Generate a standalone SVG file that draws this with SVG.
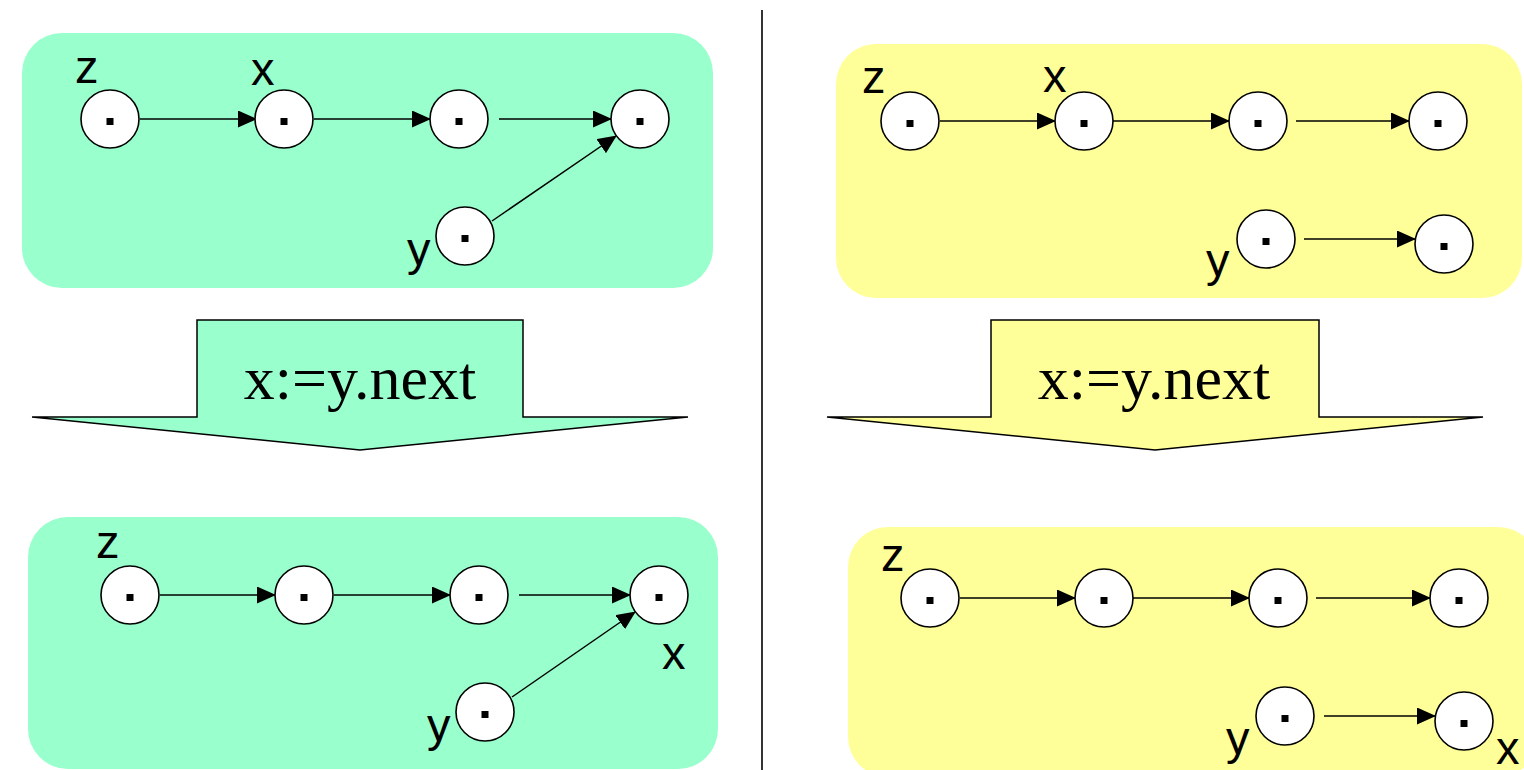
<svg xmlns="http://www.w3.org/2000/svg" width="1524" height="770" viewBox="0 0 1524 770">
<style>
.pg{fill:#99ffcc}
.py{fill:#ffff99}
.nd{fill:#ffffff;stroke:#000;stroke-width:1.6}
.dt{fill:#000}
.lb{font-family:"Liberation Sans",Arial,sans-serif;font-size:47px;fill:#000}
.op{font-family:"Liberation Serif","Times New Roman",serif;font-size:62px;fill:#000;text-anchor:middle}
.ar{stroke:#000;stroke-width:1.5;fill:none;marker-end:url(#ah)}
.bs{stroke:#000;stroke-width:1.5}
</style>
<defs>
<marker id="ah" markerUnits="userSpaceOnUse" viewBox="0 0 19 17" refX="18" refY="8.5" markerWidth="19" markerHeight="17" orient="auto">
<path d="M0,0 L19,8.5 L0,17 z" fill="#000"/>
</marker>
</defs>
<rect width="1524" height="770" fill="#ffffff"/>
<line x1="762" y1="10" x2="762" y2="770" stroke="#333" stroke-width="2"/>

<g id="panel-tl">
<rect class="pg" x="22" y="33" width="691" height="255" rx="40" ry="40"/>
<text class="lb" x="75" y="83">z</text>
<text class="lb" x="251" y="85">x</text>
<text class="lb" x="407" y="265">y</text>
</g>
<g id="panel-tr">
<rect class="py" x="836" y="44" width="686" height="254" rx="40" ry="40"/>
<text class="lb" x="862" y="93">z</text>
<text class="lb" x="1043" y="92">x</text>
<text class="lb" x="1206" y="276">y</text>
</g>
<g id="panel-bl">
<rect class="pg" x="28" y="517" width="690" height="252" rx="40" ry="40"/>
<text class="lb" x="96" y="558">z</text>
<text class="lb" x="662" y="669">x</text>
<text class="lb" x="427" y="741">y</text>
</g>
<g id="panel-br">
<rect class="py" x="848" y="527" width="690" height="250" rx="40" ry="40"/>
<text class="lb" x="881" y="571">z</text>
<text class="lb" x="1496" y="764">x</text>
<text class="lb" x="1226" y="754">y</text>
</g>

<g id="step-left">
<polygon class="pg bs" points="197,320 523,320 523,417 688,417 360,450 32,417 197,417"/>
<text class="op" x="360" y="399">x:=y.next</text>
</g>
<g id="step-right">
<polygon class="py bs" points="991,320 1319,320 1319,417 1483,417 1155,450 827,417 991,417"/>
<text class="op" x="1154" y="399">x:=y.next</text>
</g>

<g id="connectors">
<line class="ar" x1="140" y1="119" x2="256" y2="119"/>
<line class="ar" x1="314" y1="119" x2="430" y2="119"/>
<line class="ar" x1="499" y1="119" x2="611" y2="119"/>
<line class="ar" x1="492" y1="221" x2="616" y2="136"/>

<line class="ar" x1="940" y1="121" x2="1055" y2="121"/>
<line class="ar" x1="1113" y1="121" x2="1229" y2="121"/>
<line class="ar" x1="1296" y1="121" x2="1409" y2="121"/>
<line class="ar" x1="1304" y1="239" x2="1415" y2="239"/>

<line class="ar" x1="160" y1="595" x2="275" y2="595"/>
<line class="ar" x1="334" y1="595" x2="450" y2="595"/>
<line class="ar" x1="519" y1="595" x2="630" y2="595"/>
<line class="ar" x1="512" y1="697" x2="635" y2="612"/>

<line class="ar" x1="960" y1="598" x2="1075" y2="598"/>
<line class="ar" x1="1133" y1="598" x2="1249" y2="598"/>
<line class="ar" x1="1316" y1="598" x2="1430" y2="598"/>
<line class="ar" x1="1324" y1="716" x2="1435" y2="716"/>
</g>

<g id="tl-n1"><circle class="nd" cx="110" cy="119" r="29"/><rect class="dt" x="106.5" y="118" width="7" height="7"/></g>
<g id="tl-n2"><circle class="nd" cx="284" cy="119" r="29"/><rect class="dt" x="280.5" y="118" width="7" height="7"/></g>
<g id="tl-n3"><circle class="nd" cx="459" cy="119" r="29"/><rect class="dt" x="455.5" y="118" width="7" height="7"/></g>
<g id="tl-n4"><circle class="nd" cx="640" cy="119" r="29"/><rect class="dt" x="636.5" y="118" width="7" height="7"/></g>
<g id="tl-y"><circle class="nd" cx="465" cy="236" r="29"/><rect class="dt" x="461.5" y="235" width="7" height="7"/></g>

<g id="tr-n1"><circle class="nd" cx="910" cy="121" r="29"/><rect class="dt" x="906.5" y="120" width="7" height="7"/></g>
<g id="tr-n2"><circle class="nd" cx="1084" cy="121" r="29"/><rect class="dt" x="1080.5" y="120" width="7" height="7"/></g>
<g id="tr-n3"><circle class="nd" cx="1258" cy="121" r="29"/><rect class="dt" x="1254.5" y="120" width="7" height="7"/></g>
<g id="tr-n4"><circle class="nd" cx="1438" cy="121" r="29"/><rect class="dt" x="1434.5" y="120" width="7" height="7"/></g>
<g id="tr-y"><circle class="nd" cx="1266" cy="239" r="29"/><rect class="dt" x="1262.5" y="238" width="7" height="7"/></g>
<g id="tr-n5"><circle class="nd" cx="1444" cy="244" r="29"/><rect class="dt" x="1440.5" y="243" width="7" height="7"/></g>

<g id="bl-n1"><circle class="nd" cx="130" cy="595" r="29"/><rect class="dt" x="126.5" y="594" width="7" height="7"/></g>
<g id="bl-n2"><circle class="nd" cx="304" cy="595" r="29"/><rect class="dt" x="300.5" y="594" width="7" height="7"/></g>
<g id="bl-n3"><circle class="nd" cx="479" cy="595" r="29"/><rect class="dt" x="475.5" y="594" width="7" height="7"/></g>
<g id="bl-n4"><circle class="nd" cx="659" cy="595" r="29"/><rect class="dt" x="655.5" y="594" width="7" height="7"/></g>
<g id="bl-y"><circle class="nd" cx="485" cy="712" r="29"/><rect class="dt" x="481.5" y="711" width="7" height="7"/></g>

<g id="br-n1"><circle class="nd" cx="930" cy="598" r="29"/><rect class="dt" x="926.5" y="597" width="7" height="7"/></g>
<g id="br-n2"><circle class="nd" cx="1104" cy="598" r="29"/><rect class="dt" x="1100.5" y="597" width="7" height="7"/></g>
<g id="br-n3"><circle class="nd" cx="1278" cy="598" r="29"/><rect class="dt" x="1274.5" y="597" width="7" height="7"/></g>
<g id="br-n4"><circle class="nd" cx="1459" cy="598" r="29"/><rect class="dt" x="1455.5" y="597" width="7" height="7"/></g>
<g id="br-y"><circle class="nd" cx="1285" cy="716" r="29"/><rect class="dt" x="1281.5" y="715" width="7" height="7"/></g>
<g id="br-n5"><circle class="nd" cx="1464" cy="721" r="29"/><rect class="dt" x="1460.5" y="720" width="7" height="7"/></g>
</svg>
